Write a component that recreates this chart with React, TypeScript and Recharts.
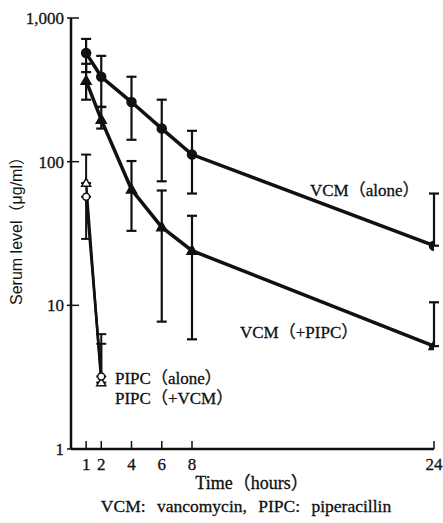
import { LineChart, Line, XAxis, YAxis, ErrorBar } from 'recharts';

// hours after dosing
const vcmHours = [1, 2, 4, 6, 8, 24];
const pipcHours = [1, 2];

// VCM (alone), filled circles
const vcmAlone = [570, 390, 260, 170, 112, 26];
const vcmAloneHi = [715, 545, 390, 270, 164, 60];
const vcmAloneLo = [420, 241, 142, 73, 60, 26];

// VCM (+PIPC), filled triangles
const vcmPipc = [365, 196, 64, 35, 24, 5.2];
const vcmPipcHi = [480, 240, 101, 63, 42, 10.5];
const vcmPipcLo = [270, 170, 33, 7.7, 5.8, 5.2];

// PIPC (alone), open triangles
const pipcAlone = [71, 2.9];
const pipcAloneHi = [112, 5.4];
const pipcAloneLo = [71, 2.9];

// PIPC (+VCM), open circles
const pipcVcm = [57, 3.2];
const pipcVcmHi = [57, 6.3];
const pipcVcmLo = [29, 3.2];

const xTicks = [1, 2, 4, 6, 8, 24];
const yTicks = [1, 10, 100, 1000];
const yTickLabels = ['1', '10', '100', '1,000'];

const INK = '#111';
const SERIF = '"Liberation Serif", "Noto Sans CJK JP", serif';
const SANS = '"Liberation Sans", "Noto Sans CJK JP", sans-serif';

function rows(t: number[], v: number[], hi: number[], lo: number[]) {
  return t.map((h, i) => ({ t: h, v: v[i], err: [v[i] - lo[i], hi[i] - v[i]] }));
}

const vcmAloneRows = rows(vcmHours, vcmAlone, vcmAloneHi, vcmAloneLo);
const vcmPipcRows = rows(vcmHours, vcmPipc, vcmPipcHi, vcmPipcLo);
const pipcAloneRows = rows(pipcHours, pipcAlone, pipcAloneHi, pipcAloneLo);
const pipcVcmRows = rows(pipcHours, pipcVcm, pipcVcmHi, pipcVcmLo);

function XTick(props: any) {
  const { x, y, payload } = props;
  return (
    <g>
      <line x1={x} x2={x} y1={y} y2={y - 8} stroke={INK} strokeWidth={1.5} />
      <text x={x} y={y + 21} textAnchor="middle" fontFamily={SERIF} fontSize={17} fill={INK} stroke={INK} strokeWidth={0.3}>
        {payload.value}
      </text>
    </g>
  );
}

function YTick(props: any) {
  const { x, y, payload } = props;
  const label = yTickLabels[yTicks.indexOf(payload.value)];
  return (
    <g>
      <line x1={x - 4} x2={x + 8} y1={y} y2={y} stroke={INK} strokeWidth={1.5} />
      <text x={x - 7} y={y + 6} textAnchor="end" fontFamily={SERIF} fontSize={17} fill={INK} stroke={INK} strokeWidth={0.3}>
        {label}
      </text>
    </g>
  );
}

function Circle(filled: boolean, r: number) {
  return (p: any) => (
    <circle key={p.index} cx={p.cx} cy={p.cy} r={r} fill={filled ? INK : '#fff'} stroke={INK} strokeWidth={1.5} />
  );
}

function Triangle(filled: boolean, s: number) {
  return (p: any) => {
    const h = s * 0.87;
    const d = `M${p.cx},${p.cy - h * 0.6} L${p.cx + s / 2},${p.cy + h * 0.4} L${p.cx - s / 2},${p.cy + h * 0.4} Z`;
    return <path key={p.index} d={d} fill={filled ? INK : '#fff'} stroke={INK} strokeWidth={1.5} />;
  };
}

export default function App() {
  return (
    <div style={{ position: 'absolute', left: 0, top: 0, width: 443, height: 523, background: '#fff' }}>
      <LineChart width={443} height={523} margin={{ top: 18, right: 9, bottom: 0, left: 0 }}>
        <XAxis
          type="number"
          dataKey="t"
          domain={[0, 24]}
          ticks={xTicks}
          tick={<XTick />}
          tickLine={false}
          tickSize={0}
          tickMargin={0}
          height={74}
          axisLine={{ stroke: INK, strokeWidth: 2.5 }}
          allowDataOverflow
        />
        <YAxis
          type="number"
          scale="log"
          domain={[1, 1000]}
          ticks={yTicks}
          tick={<YTick />}
          tickLine={false}
          tickSize={0}
          tickMargin={0}
          width={71}
          axisLine={{ stroke: INK, strokeWidth: 2.5 }}
          allowDataOverflow
        />
        <Line data={pipcAloneRows} dataKey="v" stroke={INK} strokeWidth={2.5} dot={Triangle(false, 9)} isAnimationActive={false}>
          <ErrorBar dataKey="err" width={5} stroke={INK} strokeWidth={2} />
        </Line>
        <Line data={pipcVcmRows} dataKey="v" stroke={INK} strokeWidth={2.5} dot={Circle(false, 3.5)} isAnimationActive={false}>
          <ErrorBar dataKey="err" width={5} stroke={INK} strokeWidth={2} />
        </Line>
        <Line data={vcmPipcRows} dataKey="v" stroke={INK} strokeWidth={3.5} dot={Triangle(true, 10)} isAnimationActive={false}>
          <ErrorBar dataKey="err" width={5} stroke={INK} strokeWidth={2.2} />
        </Line>
        <Line data={vcmAloneRows} dataKey="v" stroke={INK} strokeWidth={3.5} dot={Circle(true, 4.5)} isAnimationActive={false}>
          <ErrorBar dataKey="err" width={5} stroke={INK} strokeWidth={2.2} />
        </Line>

        <g fontFamily={SERIF} fontSize={17} fill={INK} stroke={INK} strokeWidth={0.3}>
          <text x={310} y={196}>VCM（alone）</text>
          <text x={240} y={338}>VCM（+PIPC）</text>
          <text x={115} y={384}>PIPC（alone）</text>
          <text x={115} y={404}>PIPC（+VCM）</text>
          <text x={252} y={489} textAnchor="middle" fontSize={18}>Time（hours）</text>
          <text x={246} y={512} textAnchor="middle" fontSize={17.5} wordSpacing={7}>VCM: vancomycin, PIPC: piperacillin</text>
        </g>
        <text transform="rotate(-90)" x={-227} y={22} textAnchor="middle" fontFamily={SANS} fontSize={16} fill={INK}>
          Serum level（μg/ml）
        </text>
      </LineChart>
    </div>
  );
}
